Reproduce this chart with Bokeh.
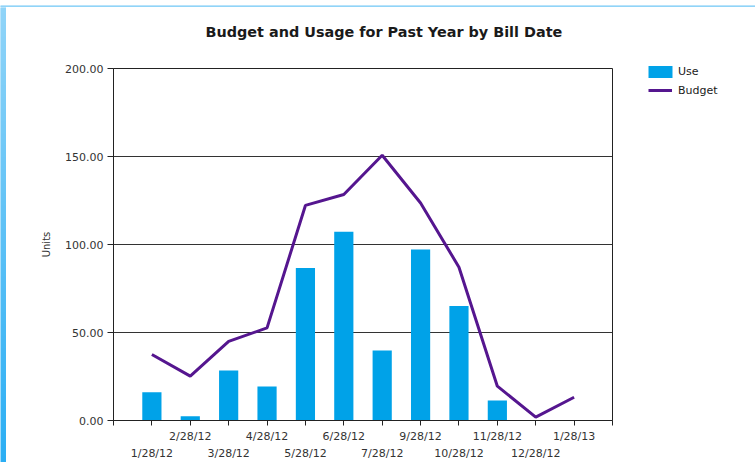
import numpy as np
from bokeh.plotting import figure
from bokeh.layouts import column, row
from bokeh.models import (Range1d, FixedTicker, LinearAxis, NumeralTickFormatter,
                          Legend, LegendItem, ColumnDataSource)
from bokeh.core.properties import value
from bokeh.embed import file_html
from bokeh.resources import INLINE

# ---- data ----
dates = ["1/28/12", "2/28/12", "3/28/12", "4/28/12", "5/28/12", "6/28/12",
         "7/28/12", "9/28/12", "10/28/12", "11/28/12", "12/28/12", "1/28/13"]
use = [16.1, 2.4, 28.4, 19.3, 86.7, 107.2, 39.8, 97.2, 65.1, 11.4, np.nan, np.nan]
budget = [37.5, 25.2, 45.0, 52.6, 122.2, 128.4, 150.7, 123.6, 87.1, 19.5, 1.9, 13.2]
y_ticks = [0, 50, 100, 150, 200]

TITLE = "Budget and Usage for Past Year by Bill Date"
FONT = "DejaVu Sans"
TXT = "#333333"
BAR_COLOR = "#00A2E8"
LINE_COLOR = "#55168F"
FRAME_TOP = "#90D4F8"
FRAME_BOTTOM = "#2AAEF4"

n = len(dates)
xs = list(range(1, n + 1))
src = ColumnDataSource(dict(x=xs, use=np.array(use, dtype=float), budget=budget, date=dates))


def blank(fig, fill="white"):
    fig.background_fill_color = fill
    fig.border_fill_color = fill
    fig.outline_line_color = None
    fig.min_border = 0
    return fig


def bare_figure(w, h, **kw):
    return figure(width=w, height=h, output_backend="svg", toolbar_location=None,
                  x_axis_type=None, y_axis_type=None, title=None, **kw)


def hex_rgb(h):
    return np.array([int(h[i:i + 2], 16) for i in (1, 3, 5)], dtype=float)


def gradient_image(h, c_bottom, c_top):
    t = np.linspace(0, 1, h)[:, None]
    rgb = (hex_rgb(c_bottom) * (1 - t) + hex_rgb(c_top) * t).round().astype(np.uint8)
    img = np.empty((h, 1), dtype=np.uint32)
    view = img.view(dtype=np.uint8).reshape((h, 1, 4))
    view[:, 0, 0:3] = rgb
    view[:, 0, 3] = 255
    return img


# ---- window frame strips ----
top_strip = blank(bare_figure(755, 7, x_range=Range1d(0, 1), y_range=Range1d(0, 1)), FRAME_TOP)
top_strip.image_rgba(image=[gradient_image(2, FRAME_TOP, FRAME_TOP)], x=0, y=0, dw=1, dh=1)

left_strip = blank(bare_figure(6, 455, x_range=Range1d(0, 1), y_range=Range1d(0, 1)), FRAME_TOP)
left_strip.image_rgba(image=[gradient_image(455, FRAME_BOTTOM, FRAME_TOP)], x=0, y=0, dw=1, dh=1)

# ---- title ----
title_fig = blank(bare_figure(749, 41, x_range=Range1d(0, 749), y_range=Range1d(0, 41)))
title_fig.text(x=[199], y=[16.7], text=[TITLE], text_font=value(FONT),
               text_font_size="14.4px", text_font_style="bold", text_color="#1a1a1a",
               text_align="left", text_baseline="alphabetic")

# ---- main chart ----
p = figure(width=607, height=414, output_backend="svg", toolbar_location=None, title=None,
           x_range=Range1d(0, n + 1), y_range=Range1d(0, 200),
           min_border_left=107, min_border_right=1, min_border_top=20,
           min_border_bottom=42)
p.background_fill_color = "white"
p.border_fill_color = "white"
p.outline_line_color = "#222222"
p.outline_line_width = 1

bars = p.vbar(x="x", top="use", width=0.5, source=src, fill_color=BAR_COLOR,
              line_color=None)
line = p.line(x="x", y="budget", source=src, line_color=LINE_COLOR, line_width=3)

yt = FixedTicker(ticks=y_ticks)
p.yaxis.ticker = yt
p.yaxis.formatter = NumeralTickFormatter(format="0.00")
p.yaxis.axis_label = "Units"
p.yaxis.axis_label_text_font = FONT
p.yaxis.axis_label_text_font_size = "10px"
p.yaxis.axis_label_text_font_style = "normal"
p.yaxis.axis_label_text_color = TXT
p.yaxis.axis_label_standoff = 10
p.yaxis.major_label_text_font = FONT
p.yaxis.major_label_text_font_size = "11px"
p.yaxis.major_label_text_color = TXT
p.yaxis.major_label_standoff = 4
p.yaxis.major_tick_out = 6
p.yaxis.major_tick_in = 0
p.yaxis.minor_tick_line_color = None
p.yaxis.axis_line_color = "#222222"
p.yaxis.major_tick_line_color = "#222222"

p.ygrid.ticker = yt
p.ygrid.grid_line_color = "#333333"
p.ygrid.grid_line_width = 1
p.xgrid.visible = False

upper = {0: "", n + 1: ""}
lower = {}
for i, d in enumerate(dates):
    if i % 2 == 1:
        upper[i + 1] = d
    else:
        upper[i + 1] = ""
        lower[i + 1] = d

xa = p.xaxis[0]
xa.ticker = FixedTicker(ticks=list(range(0, n + 2)))
xa.major_label_overrides = upper
xa.major_tick_out = 5
xa.major_tick_in = 0
xa.minor_tick_line_color = None
xa.major_label_standoff = 4
xa.major_label_text_font = FONT
xa.major_label_text_font_size = "11px"
xa.major_label_text_color = TXT
xa.axis_line_color = "#222222"
xa.major_tick_line_color = "#222222"

xa2 = LinearAxis(ticker=FixedTicker(ticks=sorted(lower.keys())),
                 major_label_overrides=lower)
xa2.axis_line_color = None
xa2.major_tick_line_color = None
xa2.minor_tick_line_color = None
xa2.major_tick_out = 0
xa2.major_tick_in = 0
xa2.major_label_standoff = 1
xa2.major_label_text_font = FONT
xa2.major_label_text_font_size = "11px"
xa2.major_label_text_color = TXT
p.add_layout(xa2, "below")

# ---- legend panel ----
lg = blank(bare_figure(142, 414, x_range=Range1d(100, 101), y_range=Range1d(1000, 1001)))
try:
    lg.frame_align = False          # let the legend panel use its whole height
    use_loc, budget_loc = (32, 383.5), (35, 365.5)
except Exception:
    use_loc, budget_loc = (32, 341.5), (35, 323.5)

lg_bars = lg.vbar(x="x", top="use", width=0.5, source=src, fill_color=BAR_COLOR,
                  line_color=None)
lg_line = lg.line(x="x", y="budget", source=src, line_color=LINE_COLOR, line_width=3)


def make_legend(label, rend, gw, gh, standoff, loc):
    L = Legend(items=[LegendItem(label=label, renderers=[rend])], location=loc)
    L.label_text_font = FONT
    L.label_text_font_size = "11px"
    L.label_text_color = "#1a1a1a"
    L.glyph_width = gw
    L.glyph_height = gh
    L.label_standoff = standoff
    L.padding = 0
    L.margin = 0
    L.spacing = 0
    L.border_line_color = None
    L.background_fill_alpha = 0
    return L


lg.add_layout(make_legend("Use", lg_bars, 30, 15, 3, use_loc))
lg.add_layout(make_legend("Budget", lg_line, 24, 12, 6, budget_loc))

layout = column(top_strip,
                row(left_strip, column(title_fig, row(p, lg, spacing=0), spacing=0), spacing=0),
                spacing=0)

open("out.html", "w").write(file_html(layout, INLINE))
